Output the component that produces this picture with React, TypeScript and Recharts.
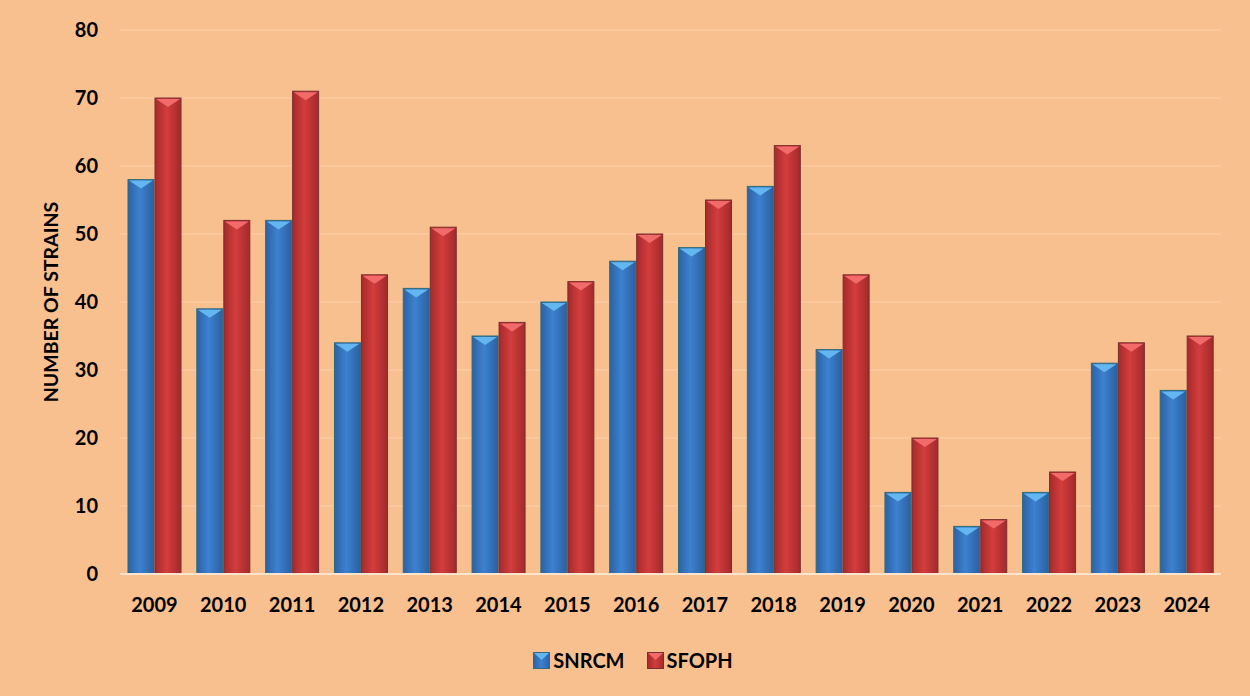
import React from "react";
import { BarChart, Bar, XAxis, YAxis, CartesianGrid } from "recharts";

const years = ["2009", "2010", "2011", "2012", "2013", "2014", "2015", "2016", "2017", "2018", "2019", "2020", "2021", "2022", "2023", "2024"];
const snrcm = [58, 39, 52, 34, 42, 35, 40, 46, 48, 57, 33, 12, 7, 12, 31, 27];
const sfoph = [70, 52, 71, 44, 51, 37, 43, 50, 55, 63, 44, 20, 8, 15, 34, 35];
const yTicks = [0, 10, 20, 30, 40, 50, 60, 70, 80];

const chartData = years.map((year, i) => ({ year, SNRCM: snrcm[i], SFOPH: sfoph[i] }));

const FONT = "Lato, 'Open Sans', sans-serif";

const palette: Record<string, { id: string; cap: string; stroke: string }> = {
  SNRCM: { id: "gradBlue", cap: "#63b6f0", stroke: "#2f6b78" },
  SFOPH: { id: "gradRed", cap: "#f26a6a", stroke: "#7a2e2e" },
};

// bevelled bar: gradient body + lighter triangle on top
const makeShape = (key: string) => (props: any) => {
  const { x, y, width, height } = props;
  if (!height || height <= 0) return <g />;
  const p = palette[key];
  const cap = Math.min(9, height);
  return (
    <g>
      <rect x={x} y={y} width={width} height={height} fill={`url(#${p.id})`} stroke={p.stroke} strokeWidth={1} />
      <polygon points={`${x + 1},${y + 1} ${x + width - 1},${y + 1} ${x + width / 2},${y + cap}`} fill={p.cap} />
    </g>
  );
};

const YLabel = (props: any) => {
  const { viewBox } = props;
  const cx = 50;
  const cy = viewBox.y + viewBox.height / 2;
  return (
    <text x={cx} y={cy} transform={`rotate(-90 ${cx} ${cy})`} textAnchor="middle" dominantBaseline="central"
      fontFamily={FONT} fontWeight={700} fontSize={19.5} fill="#000">
      NUMBER OF STRAINS
    </text>
  );
};

const LegendBox = () => (
  <div style={{ position: "absolute", left: 0, width: 1250, top: 648, display: "flex", justifyContent: "center", alignItems: "center", fontFamily: FONT, fontWeight: 700, fontSize: 20, color: "#000", paddingLeft: 16, boxSizing: "border-box" }}>
    {(["SNRCM", "SFOPH"] as const).map((k, i) => (
      <div key={k} style={{ display: "flex", alignItems: "center", marginLeft: i ? 22 : 0 }}>
        <svg width={17} height={17} style={{ marginRight: 3 }}>
          <rect x={0.5} y={0.5} width={16} height={16} fill={`url(#${palette[k].id}L)`} stroke={palette[k].stroke} />
          <polygon points="1,1 16,1 8.5,8" fill={palette[k].cap} />
        </svg>
        <span>{k}</span>
      </div>
    ))}
  </div>
);

export default function App() {
  return (
    <div style={{ position: "absolute", left: 0, top: 0, width: 1250, height: 696, background: "#f9c08f" }}>
      <svg width={0} height={0} style={{ position: "absolute" }}>
        <defs>
          <linearGradient id="gradBlueL" x1="0" y1="0" x2="1" y2="0">
            <stop offset="0" stopColor="#2c64a6" />
            <stop offset="0.5" stopColor="#3c80cf" />
            <stop offset="1" stopColor="#2c64a6" />
          </linearGradient>
          <linearGradient id="gradRedL" x1="0" y1="0" x2="1" y2="0">
            <stop offset="0" stopColor="#a62a2c" />
            <stop offset="0.5" stopColor="#d23c3c" />
            <stop offset="1" stopColor="#a62a2c" />
          </linearGradient>
        </defs>
      </svg>
      <BarChart width={1250} height={696} data={chartData} margin={{ top: 30, right: 29, left: 0, bottom: 72 }} barSize={26} barGap={1}>
        <defs>
          <linearGradient id="gradBlue" x1="0" y1="0" x2="1" y2="0">
            <stop offset="0" stopColor="#2b62a3" />
            <stop offset="0.45" stopColor="#3d81d0" />
            <stop offset="1" stopColor="#2b60a0" />
          </linearGradient>
          <linearGradient id="gradRed" x1="0" y1="0" x2="1" y2="0">
            <stop offset="0" stopColor="#a52a2c" />
            <stop offset="0.45" stopColor="#d33d3d" />
            <stop offset="1" stopColor="#a3292b" />
          </linearGradient>
        </defs>
        <CartesianGrid vertical={false} stroke="#fbd0a9" strokeWidth={1} />
        <XAxis dataKey="year" height={50} tickLine={false} axisLine={{ stroke: "#fde4cd", strokeWidth: 2 }} tickSize={0} tickMargin={24}
          tick={{ fontFamily: FONT, fontWeight: 700, fontSize: 20, fill: "#000" }} interval={0} />
        <YAxis domain={[0, 80]} ticks={yTicks} width={120} tickLine={false} axisLine={false} tickSize={0} tickMargin={22}
          tick={{ fontFamily: FONT, fontWeight: 700, fontSize: 20, fill: "#000" }} label={<YLabel />} />
        <Bar dataKey="SNRCM" shape={makeShape("SNRCM")} isAnimationActive={false} />
        <Bar dataKey="SFOPH" shape={makeShape("SFOPH")} isAnimationActive={false} />
      </BarChart>
      <LegendBox />
    </div>
  );
}
